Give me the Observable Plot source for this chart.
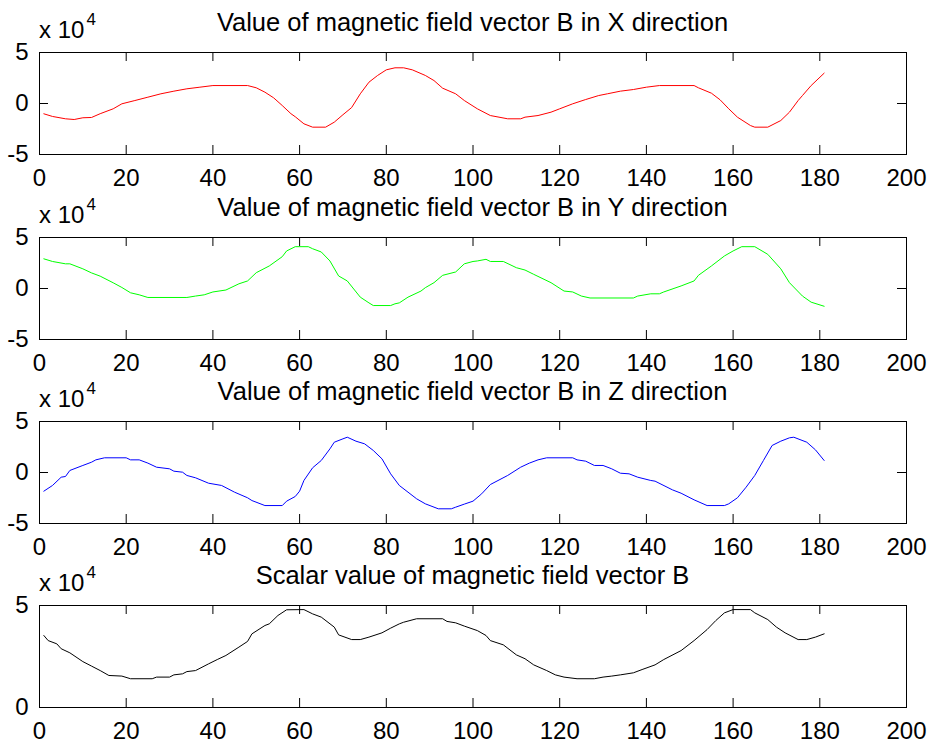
<!DOCTYPE html>
<html><head><meta charset="utf-8">
<script src="https://cdn.jsdelivr.net/npm/d3@7"></script>
<script src="https://cdn.jsdelivr.net/npm/@observablehq/plot@0.6"></script>
<style>
body{margin:0;background:#fff;}
#chart{width:931px;height:743px;overflow:hidden;background:#fff;}
#chart svg{display:block;}
</style></head><body><div id="chart"></div>
<script>
// ---- data (values in units of 10^4) ----
const xTicks = [0, 20, 40, 60, 80, 100, 120, 140, 160, 180, 200];
const yTicksSigned = [-5, 0, 5];
const yTicksScalar = [0, 5];
const titles = [
  "Value of magnetic field vector B in X direction",
  "Value of magnetic field vector B in Y direction",
  "Value of magnetic field vector B in Z direction",
  "Scalar value of magnetic field vector B"
];
const exponentBase = "x 10";
const exponentPower = "4";

const xBx = [1,3,6,8,10,12,14,17,19,22,25,28,31,34,37,40,48,50,52,54,56,58,59,61,63,66,68,70,72,74,76,78,80,82,84,86,89,91,93,96,98,101,104,106,108,111,112,115,118,120,123,126,129,131,134,137,140,143,151,152,155,157,159,161,164,165,168,171,173,175,176,178,181];
const vBx = [-1.01,-1.27,-1.5,-1.57,-1.4,-1.37,-1.0,-0.52,-0.03,0.29,0.62,0.95,1.21,1.44,1.6,1.76,1.76,1.54,1.11,0.56,-0.2,-1.0,-1.3,-1.99,-2.32,-2.32,-1.83,-1.1,-0.4,0.95,2.09,2.75,3.3,3.5,3.5,3.3,2.75,2.25,1.5,0.95,0.29,-0.52,-1.18,-1.34,-1.5,-1.5,-1.34,-1.18,-0.85,-0.52,-0.03,0.39,0.78,0.95,1.21,1.37,1.6,1.76,1.76,1.54,1.01,0.36,-0.52,-1.34,-2.16,-2.32,-2.32,-1.67,-0.85,0.29,0.78,1.76,2.97];

const xBy = [1,3,6,7,10,12,14,17,19,21,23,25,34,36,38,40,43,46,48,50,53,56,57,59,62,63,65,67,69,71,74,76,77,81,82,83,85,88,89,91,93,96,98,100,101,103,104,107,110,112,114,118,121,123,125,127,137,138,141,143,144,148,151,152,155,158,160,162,165,168,171,173,176,178,181];
const vBy = [2.91,2.65,2.42,2.42,1.93,1.53,1.21,0.56,0.1,-0.42,-0.62,-0.88,-0.88,-0.74,-0.62,-0.34,-0.15,0.46,0.74,1.55,2.21,3.12,3.68,4.1,4.1,3.9,3.58,2.7,1.23,0.74,-0.85,-1.41,-1.67,-1.67,-1.5,-1.41,-0.85,-0.25,0.08,0.57,1.29,1.62,2.42,2.65,2.7,2.86,2.65,2.65,2.04,1.81,1.39,0.57,-0.25,-0.34,-0.74,-0.93,-0.93,-0.74,-0.52,-0.52,-0.34,0.25,0.74,1.29,2.21,3.19,3.68,4.1,4.1,3.35,1.93,0.57,-0.74,-1.34,-1.74];

const xBz = [1,3,5,6,7,10,12,13,15,20,21,23,25,27,30,31,33,34,36,39,42,45,48,49,52,56,57,59,60,61,63,65,67,68,70,71,73,75,77,79,81,83,87,89,92,95,96,98,100,102,104,108,111,113,115,117,123,124,126,128,130,132,134,136,138,141,142,146,148,151,154,158,159,161,163,165,167,169,171,173,174,177,179,181];
const vBz = [-1.83,-1.27,-0.46,-0.39,0.2,0.69,1.01,1.24,1.44,1.44,1.24,1.24,0.92,0.52,0.36,0.13,0.03,-0.29,-0.52,-1.05,-1.27,-1.93,-2.48,-2.75,-3.24,-3.24,-2.81,-2.35,-1.83,-0.78,0.46,1.18,2.32,2.97,3.3,3.46,3.07,2.81,2.16,1.34,-0.13,-1.27,-2.58,-3.07,-3.56,-3.56,-3.4,-3.1,-2.81,-2.09,-1.18,-0.29,0.52,0.92,1.24,1.44,1.44,1.24,1.11,0.69,0.69,0.36,-0.07,-0.13,-0.46,-0.78,-0.85,-1.7,-2.03,-2.68,-3.24,-3.24,-3.07,-2.48,-1.44,-0.29,1.18,2.65,3.07,3.4,3.46,2.97,2.22,1.18];

const xBs = [1,2,4,5,7,10,12,14,16,19,21,26,27,30,31,33,34,36,39,41,43,46,48,49,52,53,55,57,61,63,65,68,69,72,74,76,79,81,83,84,87,93,94,96,98,101,103,104,107,110,112,114,117,119,121,124,128,130,132,134,137,139,142,144,148,151,154,156,158,160,164,165,168,170,172,175,177,179,181];
const vBs = [3.53,3.28,3.12,2.88,2.68,2.25,2.03,1.81,1.57,1.54,1.41,1.41,1.49,1.49,1.6,1.65,1.76,1.81,2.14,2.35,2.55,2.96,3.24,3.61,4.02,4.1,4.51,4.79,4.8,4.59,4.43,3.94,3.56,3.33,3.33,3.45,3.66,3.89,4.1,4.18,4.35,4.35,4.22,4.15,3.99,3.77,3.53,3.28,3.07,2.58,2.39,2.09,1.81,1.6,1.49,1.41,1.41,1.49,1.54,1.6,1.7,1.86,2.09,2.35,2.79,3.28,3.82,4.26,4.64,4.8,4.8,4.64,4.31,3.94,3.66,3.33,3.33,3.45,3.61];

// ---- layout ----
const W = 931, ML = 39, MR = 25, MT = 52;
const FONT = "'Liberation Sans', Arial, Helvetica, sans-serif";
const panels = [
  {xs: xBx, vs: vBx, color: "#ff0000", title: titles[0], yDomain: [-5, 5], yTicks: yTicksSigned, height: 185, mb: 31},
  {xs: xBy, vs: vBy, color: "#00ff00", title: titles[1], yDomain: [-5, 5], yTicks: yTicksSigned, height: 184, mb: 30},
  {xs: xBz, vs: vBz, color: "#0000ff", title: titles[2], yDomain: [-5, 5], yTicks: yTicksSigned, height: 184, mb: 30},
  {xs: xBs, vs: vBs, color: "#000000", title: titles[3], yDomain: [0, 5], yTicks: yTicksScalar, height: 190, mb: 36}
];

const root = document.getElementById("chart");
for (const p of panels) {
  const innerH = p.height - MT - p.mb;
  const innerW = W - ML - MR;
  const data = p.xs.map((x, i) => ({x, v: p.vs[i]}));
  const svg = Plot.plot({
    width: W, height: p.height,
    marginLeft: ML, marginRight: MR, marginTop: MT, marginBottom: p.mb,
    style: {fontFamily: FONT, fontSize: "24px", background: "#fff", color: "#000", overflow: "visible"},
    x: {domain: [0, 200]},
    y: {domain: p.yDomain},
    marks: [
      Plot.axisX(xTicks, {tickSize: 0, tickPadding: 14, label: null, tickFormat: d => String(d), fontSize: 24, fontFamily: FONT}),
      Plot.axisY(p.yTicks, {tickSize: 0, tickPadding: 11, label: null, tickFormat: d => String(d), fontSize: 24, fontFamily: FONT}),
      Plot.line(data, {x: "x", y: "v", stroke: p.color, strokeWidth: 1}),
      Plot.tickX(xTicks, {x: d => d, insetTop: innerH - 9, stroke: "#000"}),
      Plot.tickX(xTicks, {x: d => d, insetBottom: innerH - 9, stroke: "#000"}),
      Plot.tickY(p.yTicks, {y: d => d, insetRight: innerW - 9, stroke: "#000"}),
      Plot.tickY(p.yTicks, {y: d => d, insetLeft: innerW - 9, stroke: "#000"}),
      Plot.frame({stroke: "#000", strokeWidth: 1})
    ]
  });
  const s = d3.select(svg);
  s.append("text")
    .attr("x", ML + innerW / 2).attr("y", MT - 21)
    .attr("text-anchor", "middle")
    .style("font-family", FONT).style("font-size", "25.5px").attr("fill", "#000")
    .text(p.title);
  const ex = s.append("text")
    .attr("x", ML).attr("y", MT - 14)
    .attr("text-anchor", "start")
    .style("font-family", FONT).style("font-size", "24px").attr("fill", "#000");
  ex.append("tspan").text(exponentBase);
  ex.append("tspan").attr("dy", -13).attr("dx", 2).style("font-size", "17px").text(exponentPower);
  root.appendChild(svg);
}
</script></body></html>
